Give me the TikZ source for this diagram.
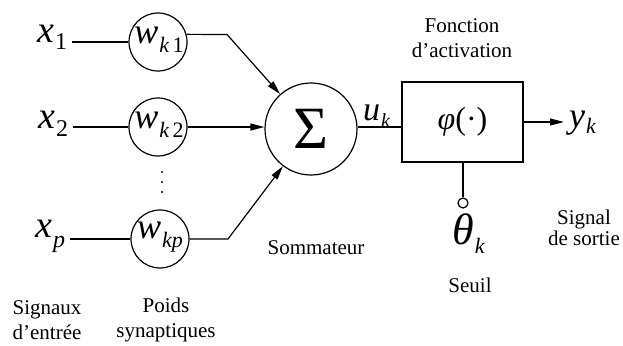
\documentclass[tikz,border=0pt]{standalone}
\usepackage{fontspec}
\setmainfont{Liberation Serif}
\usetikzlibrary{arrows.meta,calc}
\newcommand\fsz[1]{\fontsize{#1}{#1}\selectfont}
\newcommand\vsym[5]{{\fsz{#1}\itshape #2}\hspace{1pt}\raisebox{#4}{\fsz{#3}#5}}
\tikzset{
  lbl/.style={inner sep=0pt, align=center, font=\fontsize{21}{25}\selectfont},
  var/.style={inner xsep=5pt, inner ysep=0pt, anchor=base west},
  wtxt/.style={inner sep=0pt},
  wcirc/.style={circle, draw, line width=1.2pt, minimum size=58pt, inner sep=0pt},
  conn/.style={line width=1.2pt},
  arr/.style={conn, -{Triangle[length=14pt,width=7pt]}},
}
\begin{document}
\begin{tikzpicture}[x=1pt,y=-1pt]
\useasboundingbox (0,0) rectangle (623,345);
% inputs
\node[var] (x1) at (32,42) {\vsym{38}{x}{24}{-8pt}{1}};
\node[var] (x2) at (33,128) {\vsym{38}{x}{24}{-8pt}{2}};
\node[var] (xp) at (30,237) {\vsym{38}{x}{24}{-10pt}{\itshape p}};
% weights
\node[wcirc] (w1) at (158,42) {};
\node[wtxt] (w1t) at (159,40) {\vsym{36}{w}{22}{-9pt}{\itshape k\,\upshape 1}};
\node[wcirc] (w2) at (158,127) {};
\node[wtxt] (w2t) at (159,125) {\vsym{36}{w}{22}{-9pt}{\itshape k\,\upshape 2}};
\node[wcirc] (wp) at (160,239) {};
\node[wtxt] (wpt) at (160,237) {\vsym{36}{w}{22}{-9pt}{\itshape kp}};
\fill (162,172) circle (1.2pt) (162,182) circle (1.2pt) (162,192) circle (1.2pt);
% summation
\node[circle, draw, line width=1.2pt, minimum size=92pt, inner sep=0pt] (sum) at (311,129) {\fsz{60}Σ};
\node[var] (uk) at (358,120) {\vsym{34}{u}{20}{-7pt}{\itshape k}};
% activation
\node[draw, line width=1.2pt, minimum width=121pt, minimum height=80pt, inner sep=0pt] (act) at (462.5,122) {\fsz{32}{\itshape φ}(·)};
\node[var] (yk) at (564,127) {\vsym{36}{y}{22}{-6pt}{\itshape k}};
\node[circle, draw, line width=1.2pt, minimum size=10pt, inner sep=0pt] (th) at (463,203) {};
\node[var] (tk) at (447,244) {\vsym{44}{θ}{22}{-9pt}{\itshape k}};
% labels
\node[lbl] (fonct) at (462,38) {Fonction\\d’activation};
\node[lbl] (somm) at (316,248) {Sommateur};
\node[lbl] (seuil) at (470,285) {Seuil};
\node[lbl, font=\fontsize{21}{21}\selectfont] (signal) at (584,228) {Signal\\de sortie};
\node[lbl] (signaux) at (47,320) {Signaux\\d’entrée};
\node[lbl] (poids) at (166,320) {Poids\\synaptiques};
% connectors
\draw[conn] (x1.east |- w1.west) -- (w1.west);
\draw[conn] (x2.east |- w2.west) -- (w2.west);
\draw[conn] (xp.east |- wp.west) -- (wp.west);
\coordinate (b1) at (227,34.5);
\coordinate (bp) at (228,239);
\draw[arr] (w1.15) -- (b1) -- (sum);
\draw[arr] (w2.east) -- (w2.east -| sum.west);
\draw[arr] (wp.east) -- (bp) -- (sum);
\draw[conn] (sum.east |- 0,127) -- (act.west |- 0,127);
\draw[arr] (act.east) -- (act.east -| yk.west);
\draw[conn] (th.north |- act.south) -- (th.north);
\end{tikzpicture}
\end{document}
